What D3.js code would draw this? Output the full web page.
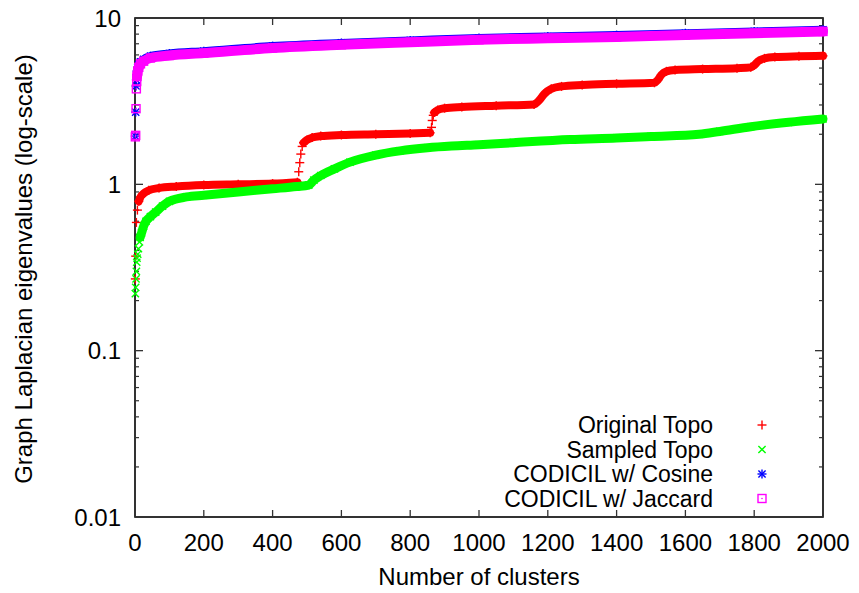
<!DOCTYPE html>
<html><head><meta charset="utf-8">
<script src="https://cdn.jsdelivr.net/npm/d3@7"></script>
<style>body{margin:0;background:#fff}svg{display:block}text{font-family:"Liberation Sans",Arial,Helvetica,sans-serif;fill:#000}</style>
</head><body>
<svg id="chart" width="859" height="593"></svg>
<script>
// ---------- data ----------
const xTicks = [0,200,400,600,800,1000,1200,1400,1600,1800,2000];
const yTicks = [0.01,0.1,1,10];
const yTickLabels = ["0.01","0.1","1","10"];
const seriesNames = ["Original Topo","Sampled Topo","CODICIL w/ Cosine","CODICIL w/ Jaccard"];
const seriesColors = ["#ff0000","#00ff00","#0000ff","#ff00ff"];
const seriesSymbols = ["plus","cross","star","box"];

// isolated markers
const origTopoLoose = [[1,0.27],[2,0.37],[4,0.59],[7,0.70],[476,1.19],[479,1.35],[482,1.52],[486,1.69],[862,2.2],[864,2.42],[867,2.6]];
// continuous dense runs (consecutive markers overlapping into a band)
const origTopoRuns = [
  [[11,0.79],[16,0.84],[25,0.88],[40,0.92],[70,0.95],[120,0.97],[200,0.99],[300,1.0],[400,1.01],[472,1.03]],
  [[490,1.78],[500,1.85],[515,1.91],[540,1.95],[600,1.98],[700,2.0],[800,2.02],[858,2.04]],
  [[870,2.7],[880,2.8],[900,2.87],[950,2.92],[1050,2.97],[1160,3.02],[1175,3.2],[1190,3.5],[1210,3.75],[1240,3.88],[1300,3.96],[1400,4.02],[1510,4.08],[1520,4.25],[1530,4.55],[1545,4.78],[1570,4.87],[1650,4.93],[1750,4.99],[1790,5.05],[1800,5.2],[1812,5.5],[1830,5.72],[1860,5.82],[1930,5.88],[2000,5.92]]
];
const sampledTopoLoose = [[1,0.22],[2,0.24],[3,0.27],[4,0.3],[5,0.34],[6,0.36],[8,0.38],[10,0.41],[13,0.45]];
const sampledTopoRuns = [
  [[15,0.48],[19,0.51],[25,0.56],[32,0.6],[45,0.64],[60,0.68],[80,0.74],[100,0.79],[150,0.84],[200,0.86],[300,0.9],[400,0.94],[470,0.97],[505,0.99],[520,1.06],[540,1.13],[580,1.24],[625,1.36],[700,1.5],[770,1.59],[850,1.66],[920,1.7],[1000,1.73],[1100,1.78],[1265,1.86],[1400,1.9],[1500,1.94],[1640,2.0],[1700,2.08],[1790,2.22],[1900,2.36],[2000,2.47]]
];
const cosineLoose = [[1,1.95],[2,2.72],[3,3.9],[4,4.25],[5,4.55]];
const cosineRuns = [
  [[6,4.8],[8,5.05],[11,5.25],[16,5.45],[25,5.65],[45,5.9],[100,6.12],[200,6.32],[400,6.78],[600,7.08],[800,7.33],[1000,7.58],[1200,7.74],[1400,7.89],[1600,8.1],[1800,8.3],[2000,8.5]]
];
const jaccardLoose = [[1,1.93],[2,1.97],[3,2.85],[4,3.75],[5,4.15]];
const jaccardRuns = [
  [[6,4.45],[8,4.8],[11,5.05],[16,5.3],[25,5.5],[45,5.75],[100,5.95],[200,6.15],[400,6.6],[600,6.9],[800,7.15],[1000,7.4],[1200,7.55],[1400,7.7],[1600,7.9],[1800,8.1],[2000,8.3]]
];

// ---------- layout ----------
const svg = d3.select("#chart");
const L = 135, R = 823, T = 18, B = 517;
const x = d3.scaleLinear().domain([0,2000]).range([L,R]);
const y = d3.scaleLog().domain([0.01,10]).range([B,T]);
const fontSize = 24;
const legendFontSize = 23;

// frame
svg.append("rect").attr("x",L).attr("y",T).attr("width",R-L).attr("height",B-T)
  .attr("fill","none").attr("stroke","#000").attr("stroke-width",1.6);

// x ticks (bottom + mirrored top)
const tickCol = "#333";
xTicks.forEach(v=>{
  svg.append("line").attr("x1",x(v)).attr("x2",x(v)).attr("y1",B).attr("y2",B-7).attr("stroke",tickCol).attr("stroke-width",1.3);
  svg.append("line").attr("x1",x(v)).attr("x2",x(v)).attr("y1",T).attr("y2",T+7).attr("stroke",tickCol).attr("stroke-width",1.3);
  svg.append("text").attr("x",x(v)).attr("y",551).attr("text-anchor","middle").attr("font-size",fontSize).text(v);
});
// y ticks major + minor, left and mirrored right
const minor = [];
for (let d = 0.01; d < 10; d *= 10) for (let k = 2; k <= 9; k++) minor.push(+(d*k).toPrecision(3));
yTicks.forEach((v,i)=>{
  svg.append("line").attr("x1",L).attr("x2",L+8).attr("y1",y(v)).attr("y2",y(v)).attr("stroke",tickCol).attr("stroke-width",1.3);
  svg.append("line").attr("x1",R).attr("x2",R-8).attr("y1",y(v)).attr("y2",y(v)).attr("stroke",tickCol).attr("stroke-width",1.3);
  svg.append("text").attr("x",121).attr("y",y(v)).attr("dy","0.36em").attr("text-anchor","end").attr("font-size",fontSize).text(yTickLabels[i]);
});
minor.forEach(v=>{
  svg.append("line").attr("x1",L).attr("x2",L+4).attr("y1",y(v)).attr("y2",y(v)).attr("stroke",tickCol).attr("stroke-width",1.2);
  svg.append("line").attr("x1",R).attr("x2",R-4).attr("y1",y(v)).attr("y2",y(v)).attr("stroke",tickCol).attr("stroke-width",1.2);
});

// axis titles
svg.append("text").attr("x",(L+R)/2).attr("y",585).attr("text-anchor","middle").attr("font-size",fontSize).text("Number of clusters");
svg.append("text").attr("transform","translate(32,269) rotate(-90)").attr("text-anchor","middle").attr("font-size",fontSize).text("Graph Laplacian eigenvalues (log-scale)");

// marker symbol painter
function drawSymbol(g, sym, cx, cy, color){
  const s = 4.5;
  const st = {stroke:color,"stroke-width":1.4,fill:"none"};
  const ln = (x1,y1,x2,y2)=>{const l=g.append("line").attr("x1",x1).attr("y1",y1).attr("x2",x2).attr("y2",y2);Object.entries(st).forEach(([k,v])=>l.attr(k,v));};
  if (sym==="plus"||sym==="star"){ ln(cx-s,cy,cx+s,cy); ln(cx,cy-s,cx,cy+s); }
  if (sym==="cross"||sym==="star"){ const c=s*0.8; ln(cx-c,cy-c,cx+c,cy+c); ln(cx-c,cy+c,cx+c,cy-c); }
  if (sym==="box"){
    const r = g.append("rect").attr("x",cx-4).attr("y",cy-4).attr("width",8).attr("height",8);
    Object.entries(st).forEach(([k,v])=>r.attr(k,v));
    g.append("circle").attr("cx",cx).attr("cy",cy).attr("r",0.8).attr("fill",color);
  }
}

const series = [
  {loose:origTopoLoose, runs:origTopoRuns, width:8},
  {loose:sampledTopoLoose, runs:sampledTopoRuns, width:9},
  {loose:cosineLoose, runs:cosineRuns, width:8},
  {loose:jaccardLoose, runs:jaccardRuns, width:10}
];
const line = d3.line().x(d=>x(d[0])).y(d=>y(d[1])).curve(d3.curveMonotoneX);
series.forEach((s,i)=>{
  const g = svg.append("g");
  const col = seriesColors[i];
  s.runs.forEach(run=>{
    g.append("path").attr("d",line(run)).attr("fill","none").attr("stroke",col)
      .attr("stroke-width",s.width).attr("stroke-linecap","round").attr("stroke-linejoin","round");
  });
  s.loose.forEach(p=>drawSymbol(g, seriesSymbols[i], x(p[0]), y(p[1]), col));
  s.runs.forEach(run=>run.forEach(p=>drawSymbol(g, seriesSymbols[i], x(p[0]), y(p[1]), col)));
});

// legend
const legBase = [433,457.5,482,506.5];
seriesNames.forEach((n,i)=>{
  svg.append("text").attr("x",713).attr("y",legBase[i]).attr("text-anchor","end").attr("font-size",legendFontSize).text(n);
  drawSymbol(svg.append("g"), seriesSymbols[i], 762, legBase[i]-8, seriesColors[i]);
});
</script>
</body></html>
